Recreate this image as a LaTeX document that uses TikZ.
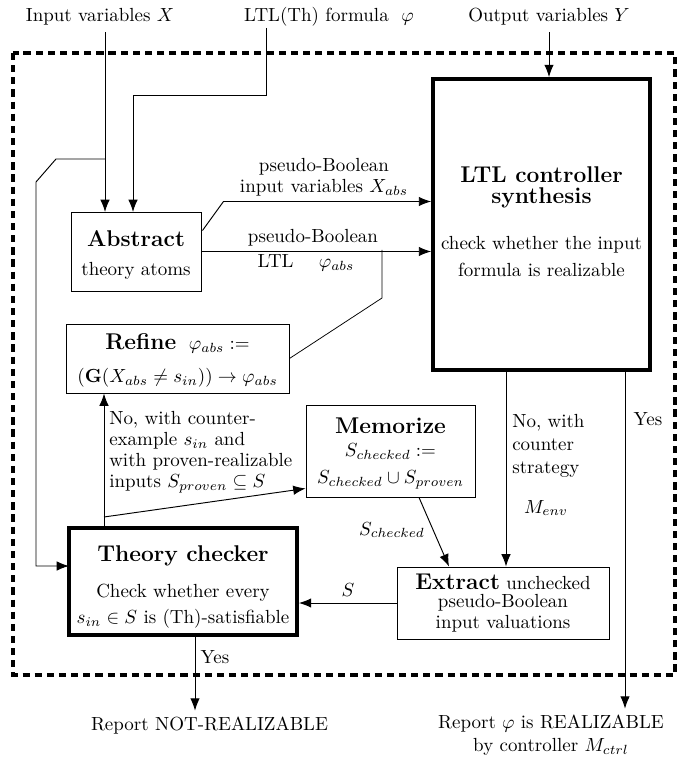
\documentclass[tikz,border=0pt]{standalone}
\usepackage{amsmath}
\usepackage{amssymb}
\usetikzlibrary{calc}
\usetikzlibrary{arrows.meta}
\tikzset{
  block/.style 2 args={draw, line width=0.5pt, minimum width=#1*0.527pt, minimum height=#2*0.527pt, inner sep=0pt},
  thickblock/.style 2 args={block={#1}{#2}, line width=2pt},
  btext/.style={align=center, inner sep=0pt},
  lbl/.style={inner sep=1pt, align=left},
  flow/.style={-{Latex[length=6.5pt,width=5pt]}, line width=0.5pt},
}
\newcommand{\head}[1]{{\large\bfseries #1}}

\begin{document}
\begin{tikzpicture}[x=0.527pt, y=-0.527pt]
\useasboundingbox (0,0) rectangle (678,757);
% frame round the tool
\draw[line width=2pt, dash pattern=on 3.8pt off 2.6pt] (13,53) rectangle (675,675);

% inputs
\node (inX) at (100,17) {Input variables $X$};
\node (inPhi) at (329,17) {LTL(Th) formula \ $\varphi$};
\node (outY) at (549,17) {Output variables $Y$};

% boxes
\node[thickblock={217}{291}] (ltl) at (541.5,224.5) {};
\node[btext] (ltlText) at (541.5,222) {\head{LTL controller}\\[-1pt]\head{synthesis}\\[12pt]check whether the input\\[2.5pt]formula is realizable};
\node[block={130}{79}] (abs) at (136,251.5) {};
\node[btext] (absText) at (136,255) {\head{Abstract}\\[3.6pt]theory atoms};
\node[block={223}{69}] (refine) at (177.5,358.5) {};
\node[btext] (refineText) at (177.5,360.5) {\head{Refine} \ $\varphi_{abs}:=$\\[5pt]$(\mathbf{G}(X_{abs}\neq s_{in}))\rightarrow\varphi_{abs}$};
\node[thickblock={228}{107}] (theory) at (183,581.5) {};
\node[btext] (theoryText) at (183,587) {\head{Theory checker}\\[7pt]Check whether every\\[1.6pt]$s_{in}\in S$ is (Th)-satisfiable};
\node[block={169}{92}] (memo) at (390.5,451) {};
\node[btext] (memoText) at (390.5,453.5) {\head{Memorize}\\[0pt]$S_{checked}:=$\\[2pt]$S_{checked}\cup S_{proven}$};
\node[block={212}{72}] (extract) at (503,603) {};
\node[btext] (extractText) at (503,603.5) {\head{Extract} unchecked\\[-3pt]pseudo-Boolean\\[-0.5pt]input valuations};

% outputs
\node (notreal) at (209.5,726) {Report NOT-REALIZABLE};
\node[align=center] (real) at (551,735.5) {Report $\varphi$ is REALIZABLE\\[0pt]by controller $M_{ctrl}$};

% labels
\node[align=center] (lXabs) at (324,177) {pseudo-Boolean\\[-1pt]input variables $X_{abs}$};
\node (lpB) at (313,238) {pseudo-Boolean};
\node (lphiabs) at (306,263) {LTL \quad $\varphi_{abs}$};
\node[lbl, anchor=west] (lcex) at (107,452) {No, with counter-\\[-1pt]example $s_{in}$ and\\[-1pt]with proven-realizable\\[-1pt]inputs $S_{proven}\subseteq S$};
\node[lbl, anchor=west] (lcstr) at (510,446) {No, with\\counter\\strategy};
\node (lMenv) at (546,508) {$M_{env}$};
\node (lyes1) at (648,419) {Yes};
\node (lyes2) at (215,657) {Yes};
\node (lS) at (348,590) {$S$};
\node (lSchk) at (392,530) {$S_{checked}$};

% connectors
\coordinate (xin) at (105,212);
\coordinate (xfork) at (105,159);
\coordinate (phiin) at (133,212);
\coordinate (phitop) at (266,28);
\coordinate (thin) at (69,566);
\draw[flow] (xin |- inX.south) -- (xin);
\draw[flow] (xfork) -- (56,159) -- (36,182) |- (thin);
\draw[flow] (phitop) -- (266,95) -| (phiin);
\draw[flow] (outY.south) -- (outY.south |- ltl.north);

\draw[flow] ($(abs.east)+(1,-21)$) -- ++(21,-29) coordinate (xbend) -- (xbend -| ltl.west);
\draw[flow] (abs.east) -- (abs.east -| ltl.west);
\coordinate (tap) at (382,250);
\draw (tap) -- (382,298) -- (refine.east);

\coordinate (up) at (104,528);
\coordinate (fork) at (104,517);
\draw[flow] (up) -- (up |- refine.south);
\draw[flow] (fork) -- ($(memo.south west)+(0,-9)$);
\draw[flow] ($(memo.south)+(28.5,0)$) -- ($(extract.north)+(-54,0)$);

\coordinate (noout) at (506,370);
\coordinate (yesout) at (625,370);
\draw[flow] (noout) -- (noout |- extract.north);
\draw[flow] (yesout) -- (yesout |- real.north);
\draw[flow] (extract.west) -- (extract.west -| theory.east);
\draw[flow] (theory.south -| 195,0) -- (195,0 |- notreal.north);
\end{tikzpicture}
\end{document}
